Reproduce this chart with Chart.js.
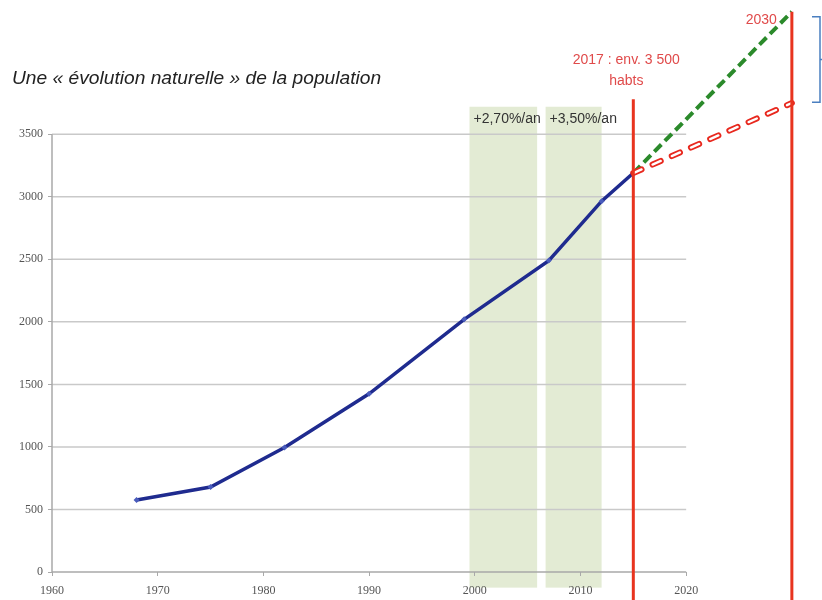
<!DOCTYPE html>
<html>
<head>
<meta charset="utf-8">
<script src="https://cdn.jsdelivr.net/npm/chart.js@4/dist/chart.umd.min.js"></script>
<style>
  html, body { margin: 0; padding: 0; background: #ffffff; }
  #wrap { width: 822px; height: 600px; position: relative; }
</style>
</head>
<body>
<div id="wrap"><canvas id="c" width="822" height="600"></canvas></div>
<script>
// ---- data ----
const years = [1968, 1975, 1982, 1990, 1999, 2007, 2012, 2015];
const population = [575, 680, 995, 1425, 2020, 2490, 2965, 3190];
const projYears = [2015, 2030];
const projHigh = [3190, 4480];
const projLow = [3190, 3750];
const xTicks = [1960, 1970, 1980, 1990, 2000, 2010, 2020];
const yTicks = [0, 500, 1000, 1500, 2000, 2500, 3000, 3500];
const bandFrom = [1999.5, 2006.7];
const bandTo = [2005.9, 2012.0];
const bandTop = 3720;
const bandBottom = -125;
const bandText = ['+2,70%/an', '+3,50%/an'];
const markerYears = [2015, 2030];
const markerTops = [3780, 4480];
const markerText = [['2017 : env. 3 500', 'habts'], ['2030']];
const bracketRange = [3755, 4440];
const titleText = 'Une \u00ab \u00e9volution naturelle \u00bb de la population';

const decor = {
  id: 'decor',
  beforeDraw(chart) {
    const { ctx } = chart;
    const x = chart.scales.x, y = chart.scales.y;
    ctx.save();
    ctx.fillStyle = '#e3ebd4';
    for (let i = 0; i < bandFrom.length; i++) {
      const l = x.getPixelForValue(bandFrom[i]);
      const r = x.getPixelForValue(bandTo[i]);
      const t = y.getPixelForValue(bandTop);
      const b = y.getPixelForValue(bandBottom);
      ctx.fillRect(l, t, r - l, b - t);
    }
    ctx.restore();
  },
  beforeDatasetsDraw(chart) {
    const { ctx } = chart;
    const x = chart.scales.x, y = chart.scales.y;
    const x0 = x.getPixelForValue(xTicks[0]);
    const x1 = x.getPixelForValue(xTicks[xTicks.length - 1]);
    ctx.save();
    ctx.strokeStyle = '#c9c9c9';
    ctx.lineWidth = 1.5;
    yTicks.forEach(v => {
      if (v === 0) return;
      const py = y.getPixelForValue(v);
      ctx.beginPath(); ctx.moveTo(x0, py); ctx.lineTo(x1, py); ctx.stroke();
    });
    ctx.strokeStyle = '#a9a9a9';
    const py0 = y.getPixelForValue(0);
    ctx.beginPath(); ctx.moveTo(x0, py0); ctx.lineTo(x1, py0); ctx.stroke();
    ctx.beginPath(); ctx.moveTo(x0, py0); ctx.lineTo(x0, y.getPixelForValue(yTicks[yTicks.length - 1])); ctx.stroke();
    // band labels
    ctx.fillStyle = '#333333';
    ctx.font = '14px "Liberation Sans", Arial, sans-serif';
    ctx.textAlign = 'left';
    ctx.textBaseline = 'middle';
    for (let i = 0; i < bandFrom.length; i++) {
      ctx.fillText(bandText[i], x.getPixelForValue(bandFrom[i]) + 4, y.getPixelForValue(bandTop) + 12);
    }
    ctx.restore();
  },
  afterDatasetsDraw(chart) {
    const { ctx } = chart;
    const x = chart.scales.x, y = chart.scales.y;
    ctx.save();
    // red vertical markers
    ctx.strokeStyle = '#e8341f';
    ctx.lineWidth = 3;
    markerYears.forEach((yr, i) => {
      const px = x.getPixelForValue(yr);
      ctx.beginPath(); ctx.moveTo(px, y.getPixelForValue(markerTops[i])); ctx.lineTo(px, chart.height); ctx.stroke();
    });
    // marker texts
    ctx.fillStyle = '#e04a4a';
    ctx.font = '14px "Liberation Sans", Arial, sans-serif';
    ctx.textBaseline = 'middle';
    const p1 = x.getPixelForValue(markerYears[0]);
    ctx.textAlign = 'center';
    ctx.fillText(markerText[0][0], p1 - 7, 60);
    ctx.fillText(markerText[0][1], p1 - 7, 81);
    const p2 = x.getPixelForValue(markerYears[1]);
    ctx.textAlign = 'right';
    ctx.fillText(markerText[1][0], p2 - 15, 20);
    // blue bracket
    const bt = y.getPixelForValue(bracketRange[1]);
    const bb = y.getPixelForValue(bracketRange[0]);
    const bx = chart.width - 2;
    ctx.strokeStyle = '#4a7fc0';
    ctx.lineWidth = 1.5;
    ctx.beginPath();
    ctx.moveTo(bx - 8, bt); ctx.lineTo(bx, bt); ctx.lineTo(bx, bb); ctx.lineTo(bx - 8, bb);
    ctx.moveTo(bx, (bt + bb) / 2); ctx.lineTo(chart.width, (bt + bb) / 2);
    ctx.stroke();
    // title
    ctx.fillStyle = '#222222';
    ctx.font = 'italic 19.2px "Liberation Sans", Arial, sans-serif';
    ctx.textAlign = 'left';
    ctx.textBaseline = 'alphabetic';
    ctx.fillText(titleText, 12, 84);
    ctx.restore();
  }
};

const pts = (xs, ys) => xs.map((v, i) => ({ x: v, y: ys[i] }));

new Chart(document.getElementById('c'), {
  type: 'line',
  data: {
    datasets: [
      {
        label: 'Population',
        data: pts(years, population),
        borderColor: '#1f2b8f',
        borderWidth: 3.5,
        pointStyle: 'rectRot',
        pointRadius: 3,
        pointBackgroundColor: '#4a5cbc',
        pointBorderWidth: 0,
        tension: 0,
        order: 3
      },
      {
        label: 'Projection haute',
        data: pts(projYears, projHigh),
        borderColor: '#2b8a2b',
        borderWidth: 4,
        borderDash: [10, 5],
        pointRadius: 0,
        clip: false,
        order: 2
      },
      {
        label: 'Projection basse',
        data: pts(projYears, projLow),
        borderColor: '#e8281e',
        borderWidth: 6,
        borderDash: [9, 12],
        borderCapStyle: 'round',
        pointRadius: 0,
        clip: false,
        order: 1
      },
      {
        label: 'Projection basse (int)',
        data: pts(projYears, projLow),
        borderColor: '#ffffff',
        borderWidth: 2.4,
        borderDash: [9, 12],
        borderCapStyle: 'round',
        pointRadius: 0,
        clip: false,
        order: 0
      }
    ]
  },
  options: {
    responsive: false,
    animation: false,
    layout: { padding: { left: 0, right: 9, top: 0, bottom: 0 } },
    plugins: { legend: { display: false }, tooltip: { enabled: false }, title: { display: false } },
    scales: {
      x: {
        type: 'linear',
        min: 1960,
        max: 2032,
        afterBuildTicks: s => { s.ticks = xTicks.map(v => ({ value: v })); },
        afterFit: s => { s.height = 28; },
        ticks: {
          font: { family: '"Liberation Serif", "Times New Roman", serif', size: 12 },
          color: '#555555',
          padding: 8,
          maxRotation: 0,
          autoSkip: false,
          callback: v => String(v)
        },
        grid: { drawOnChartArea: false, drawTicks: true, tickLength: 4, color: '#a9a9a9' },
        border: { display: false }
      },
      y: {
        type: 'linear',
        min: 0,
        max: 4476,
        afterBuildTicks: s => { s.ticks = yTicks.map(v => ({ value: v })); },
        afterFit: s => { s.width = 52; },
        ticks: {
          font: { family: '"Liberation Serif", "Times New Roman", serif', size: 12 },
          color: '#555555',
          padding: 5,
          callback: v => String(v)
        },
        grid: { drawOnChartArea: false, drawTicks: true, tickLength: 4, color: '#a9a9a9' },
        border: { display: false }
      }
    }
  },
  plugins: [decor]
});
</script>
</body>
</html>
